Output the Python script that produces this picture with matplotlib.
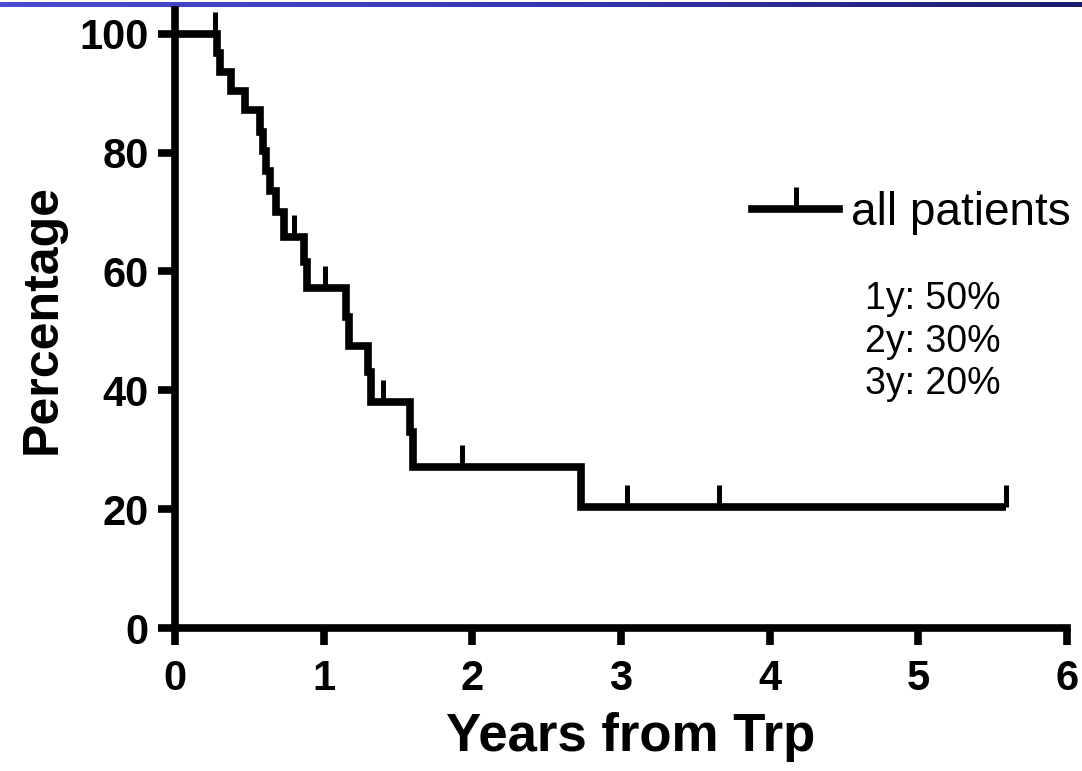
import numpy as np
import matplotlib
matplotlib.use("Agg")
import matplotlib.pyplot as plt
from matplotlib.path import Path
from matplotlib.lines import Line2D
from matplotlib.colors import LinearSegmentedColormap

# Kaplan-Meier steps (years, percent after each drop)
event_years = [0.28, 0.30, 0.38, 0.47, 0.57, 0.59, 0.61, 0.64, 0.68, 0.73,
               0.87, 0.89, 1.15, 1.17, 1.30, 1.32, 1.58, 1.60, 2.73]
event_surv = [96.8, 93.6, 90.3, 87.1, 83.5, 80.2, 76.9, 73.6, 70.0, 65.8,
              61.6, 57.2, 52.3, 47.4, 43.0, 38.0, 33.0, 27.1, 20.4]
last_followup = 5.59

# censored observations (tick marks)
censor_years = [0.27, 0.80, 1.01, 1.40, 1.93, 3.04, 3.66, 5.59]

series_label = "all patients"
milestone_labels = ["1y", "2y", "3y"]
milestone_values = [50, 30, 20]

xticks = [0, 1, 2, 3, 4, 5, 6]
yticks = [0, 20, 40, 60, 80, 100]

plt.rcParams["font.family"] = ["Liberation Sans", "DejaVu Sans"]

fig = plt.figure(figsize=(10.82, 7.71), dpi=100)

# thin blue gradient bar at the very top
bar = fig.add_axes([0, 1 - 7 / 771, 1, 5 / 771])
grad = np.linspace(0, 1, 256).reshape(1, -1)
cmap = LinearSegmentedColormap.from_list("hdr", ["#4c4cd2", "#3636b4", "#1c1c6c"])
bar.imshow(grad, aspect="auto", cmap=cmap)
bar.axis("off")

ax = fig.add_axes([175 / 1082, 1 - 628 / 771, (1067 - 175) / 1082, (628 - 10) / 771])

# build step curve
xs = [0.0]
ys = [100.0]
cur = 100.0
for t, s in zip(event_years, event_surv):
    xs += [t, t]
    ys += [cur, s]
    cur = s
xs.append(last_followup)
ys.append(cur)
ax.plot(xs, ys, color="black", lw=5.5, solid_joinstyle="miter", solid_capstyle="butt")


def surv_at(t):
    s = 100.0
    for et, es in zip(event_years, event_surv):
        if et <= t:
            s = es
    return s


tick_marker = Path([(0, 0), (0, 1)])
ax.plot(censor_years, [surv_at(t) for t in censor_years], ls="none",
        marker=tick_marker, ms=32, mew=3.6, color="black")

ax.set_xlim(0, 6)
ax.set_ylim(0, 104)
ax.set_xticks(xticks)
ax.set_yticks(yticks)
ax.spines["top"].set_visible(False)
ax.spines["right"].set_visible(False)
for sp in ("left", "bottom"):
    ax.spines[sp].set_linewidth(5.5)
ax.tick_params(length=12, width=5.5, labelsize=30, pad=7)
ax.tick_params(axis="x", pad=10)
for lab in ax.get_xticklabels() + ax.get_yticklabels():
    lab.set_fontweight("bold")

ax.set_xlabel("Years from Trp", fontsize=38, fontweight="bold", labelpad=10)
ax.xaxis.label.set_x(0.511)
ax.set_ylabel("Percentage", fontsize=36, fontweight="bold", labelpad=10)

handle = Line2D([], [], color="black", lw=5.5, marker=tick_marker, ms=32, mew=3.6)
ax.legend([handle], [series_label], loc="center left", bbox_to_anchor=(0.647, 0.671),
          frameon=False, fontsize=33, handlelength=1.9, handletextpad=0.25,
          numpoints=1, borderaxespad=0, borderpad=0)

txt = "\n".join(f"{l}: {v}%" for l, v in zip(milestone_labels, milestone_values))
ax.text(0.7735, 0.463, txt, transform=ax.transAxes, fontsize=27, va="center",
        ha="left", linespacing=1.23)

fig.savefig("out.png", dpi=100)
